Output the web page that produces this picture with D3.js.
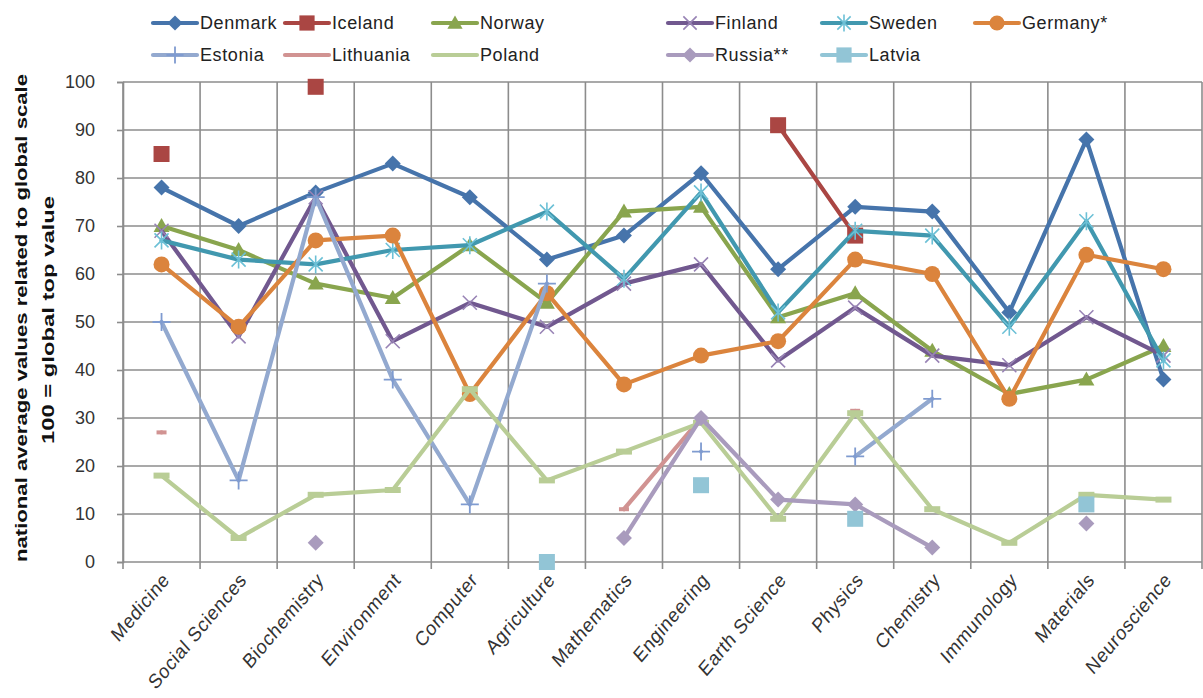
<!DOCTYPE html>
<html>
<head>
<meta charset="utf-8">
<script src="https://cdn.jsdelivr.net/npm/d3@7"></script>
<style>
  html, body { margin: 0; padding: 0; background: #ffffff; }
  svg { display: block; font-family: "Liberation Sans", Arial, sans-serif; }
</style>
</head>
<body>
<svg id="chart" width="1203" height="698"></svg>
<script>
const categories = ["Medicine", "Social Sciences", "Biochemistry", "Environment", "Computer", "Agriculture",
  "Mathematics", "Engineering", "Earth Science", "Physics", "Chemistry", "Immunology", "Materials", "Neuroscience"];

const denmark   = [78, 70, 77, 83, 76, 63, 68, 81, 61, 74, 73, 52, 88, 38];
const iceland   = [85, null, 99, null, null, null, null, null, 91, 68, null, null, null, null];
const norway    = [70, 65, 58, 55, 66, 54, 73, 74, 51, 56, 44, 35, 38, 45];
const finland   = [69, 47, 76, 46, 54, 49, 58, 62, 42, 53, 43, 41, 51, 43];
const sweden    = [67, 63, 62, 65, 66, 73, 59, 77, 52, 69, 68, 49, 71, 42];
const germany   = [62, 49, 67, 68, 35, 56, 37, 43, 46, 63, 60, 34, 64, 61];
const estonia   = [50, 17, 76, 38, 12, 58, null, 23, null, 22, 34, null, null, null];
const lithuania = [27, null, null, null, null, null, 11, 30, null, 31.5, null, null, null, null];
const poland    = [18, 5, 14, 15, 36, 17, 23, 29, 9, 31, 11, 4, 14, 13];
const russia    = [null, null, 4, null, null, null, 5, 30, 13, 12, 3, null, 8, null];
const latvia    = [null, null, null, null, null, 0, null, 16, null, 9, null, null, 12, null];

const yTicks = [0, 10, 20, 30, 40, 50, 60, 70, 80, 90, 100];
const yTitle = ["national average values related to global scale", "100 = global top value"];

const series = [
  { name: "Denmark",   values: denmark,   color: "#4674AB", marker: "diamond",  mcolor: "#4674AB" },
  { name: "Iceland",   values: iceland,   color: "#AA4643", marker: "square",   mcolor: "#AA4643" },
  { name: "Norway",    values: norway,    color: "#89A54E", marker: "triangle", mcolor: "#89A54E" },
  { name: "Finland",   values: finland,   color: "#71588F", marker: "x",        mcolor: "#9883B5" },
  { name: "Sweden",    values: sweden,    color: "#4198AF", marker: "star",     mcolor: "#6CC0D6" },
  { name: "Germany*",  values: germany,   color: "#DB843D", marker: "circle",   mcolor: "#DB843D" },
  { name: "Estonia",   values: estonia,   color: "#93A9CF", marker: "plus",     mcolor: "#7F9BD0" },
  { name: "Lithuania", values: lithuania, color: "#D19392", marker: "smalldash", mcolor: "#D19392" },
  { name: "Poland",    values: poland,    color: "#B9CD96", marker: "dash",     mcolor: "#B9CD96" },
  { name: "Russia**",  values: russia,    color: "#A99BBD", marker: "diamond",  mcolor: "#A99BBD" },
  { name: "Latvia",    values: latvia,    color: "#92C5D6", marker: "square",   mcolor: "#92C5D6", noLine: true }
];

const svg = d3.select("#chart");
const plot = { left: 123, right: 1202, top: 82, bottom: 562 };

const x = d3.scaleBand().domain(categories).range([plot.left, plot.right]).paddingInner(0).paddingOuter(0);
const y = d3.scaleLinear().domain([0, 100]).range([plot.bottom, plot.top]);
const cx = c => x(c) + x.bandwidth() / 2;

const gridColor = "#8C8C8C";

// horizontal gridlines
svg.append("g").selectAll("line").data(yTicks).join("line")
  .attr("x1", plot.left).attr("x2", plot.right)
  .attr("y1", d => y(d)).attr("y2", d => y(d))
  .attr("stroke", gridColor).attr("stroke-width", 1.6);

// vertical gridlines at category boundaries
const bounds = categories.map(c => x(c)).concat([plot.right]);
svg.append("g").selectAll("line").data(bounds).join("line")
  .attr("x1", d => d).attr("x2", d => d)
  .attr("y1", plot.top).attr("y2", plot.bottom + 7)
  .attr("stroke", gridColor).attr("stroke-width", 1.6);

// y axis
const yAxis = svg.append("g").attr("transform", `translate(${plot.left},0)`)
  .call(d3.axisLeft(y).tickValues(yTicks).tickSize(6).tickPadding(22).tickFormat(d3.format("d")));
yAxis.select(".domain").attr("stroke", gridColor).attr("stroke-width", 1.6);
yAxis.selectAll(".tick line").attr("stroke", gridColor).attr("stroke-width", 1.6);
yAxis.selectAll(".tick text").attr("font-size", 18).attr("fill", "#333").attr("font-family", "Liberation Sans, Arial, sans-serif");

// x axis labels
const xAxis = svg.append("g").attr("transform", `translate(0,${plot.bottom})`)
  .call(d3.axisBottom(x).tickSize(0).tickPadding(0));
xAxis.select(".domain").remove();
xAxis.selectAll(".tick text")
  .attr("font-size", 19).attr("letter-spacing", 0.6).attr("fill", "#333").attr("font-family", "Liberation Sans, Arial, sans-serif")
  .attr("text-anchor", "end").attr("dy", 0)
  .attr("transform", "translate(9,19) rotate(-50) skewX(-8)");

// y title
const yt = svg.append("g");
yt.append("text").text(yTitle[0])
  .attr("transform", `translate(27,318) rotate(-90)`).attr("text-anchor", "middle")
  .attr("font-weight", "bold").attr("font-size", 16).attr("fill", "#111")
  .attr("textLength", 488).attr("lengthAdjust", "spacingAndGlyphs");
yt.append("text").text(yTitle[1])
  .attr("transform", `translate(54,320) rotate(-90)`).attr("text-anchor", "middle")
  .attr("font-weight", "bold").attr("font-size", 16).attr("fill", "#111")
  .attr("textLength", 248).attr("lengthAdjust", "spacingAndGlyphs");

function drawMarker(g, type, px, py, color, scale = 1) {
  const s = scale;
  switch (type) {
    case "diamond":
      g.append("path").attr("d", `M${px},${py - 8 * s}L${px + 8 * s},${py}L${px},${py + 8 * s}L${px - 8 * s},${py}Z`).attr("fill", color);
      break;
    case "square":
      g.append("rect").attr("x", px - 8 * s).attr("y", py - 8 * s).attr("width", 16 * s).attr("height", 16 * s).attr("fill", color);
      break;
    case "triangle":
      g.append("path").attr("d", `M${px},${py - 8 * s}L${px + 8 * s},${py + 6 * s}L${px - 8 * s},${py + 6 * s}Z`).attr("fill", color);
      break;
    case "circle":
      g.append("circle").attr("cx", px).attr("cy", py).attr("r", 8 * s).attr("fill", color);
      break;
    case "x":
      g.append("path").attr("d", `M${px - 7 * s},${py - 7 * s}L${px + 7 * s},${py + 7 * s}M${px - 7 * s},${py + 7 * s}L${px + 7 * s},${py - 7 * s}`)
        .attr("stroke", color).attr("stroke-width", 1.6).attr("fill", "none");
      break;
    case "star":
      g.append("path").attr("d", `M${px - 7 * s},${py - 7 * s}L${px + 7 * s},${py + 7 * s}M${px - 7 * s},${py + 7 * s}L${px + 7 * s},${py - 7 * s}M${px},${py - 9 * s}L${px},${py + 9 * s}`)
        .attr("stroke", color).attr("stroke-width", 1.6).attr("fill", "none");
      break;
    case "plus":
      g.append("path").attr("d", `M${px - 9 * s},${py}L${px + 9 * s},${py}M${px},${py - 9 * s}L${px},${py + 9 * s}`)
        .attr("stroke", color).attr("stroke-width", 1.8).attr("fill", "none");
      break;
    case "dash":
      g.append("rect").attr("x", px - 8 * s).attr("y", py - 3 * s).attr("width", 16 * s).attr("height", 6 * s).attr("fill", color);
      break;
    case "smalldash":
      g.append("rect").attr("x", px - 5 * s).attr("y", py - 2 * s).attr("width", 10 * s).attr("height", 4 * s).attr("fill", color);
      break;
  }
}

const line = d3.line()
  .defined(d => d.v !== null)
  .x(d => cx(d.c)).y(d => y(d.v));

const seriesG = svg.append("g");
series.forEach(s => {
  const g = seriesG.append("g");
  const pts = categories.map((c, i) => ({ c, v: s.values[i] }));
  if (!s.noLine) {
    g.append("path").datum(pts).attr("d", line)
      .attr("fill", "none").attr("stroke", s.color).attr("stroke-width", 4.2)
      .attr("stroke-linejoin", "round").attr("stroke-linecap", "round");
  }
  pts.filter(d => d.v !== null).forEach(d => drawMarker(g, s.marker, cx(d.c), y(d.v), s.mcolor));
});

// legend
const legendPos = [
  { x: 153, y: 23 }, { x: 285, y: 23 }, { x: 433, y: 23 }, { x: 668, y: 23 }, { x: 822, y: 23 }, { x: 975, y: 23 },
  { x: 153, y: 55 }, { x: 285, y: 55 }, { x: 433, y: 55 }, { x: 668, y: 55 }, { x: 822, y: 55 }
];
const lg = svg.append("g");
series.forEach((s, i) => {
  const p = legendPos[i];
  const g = lg.append("g");
  g.append("line").attr("x1", p.x).attr("x2", p.x + 44).attr("y1", p.y).attr("y2", p.y)
    .attr("stroke", s.color).attr("stroke-width", 4.2).attr("stroke-linecap", "round");
  if (s.marker !== "dash" && s.marker !== "smalldash") drawMarker(g, s.marker, p.x + 22, p.y, s.mcolor, 0.95);
  g.append("text").text(s.name).attr("x", p.x + 47).attr("y", p.y).attr("dy", "0.36em")
    .attr("font-size", 18).attr("letter-spacing", 0.6).attr("fill", "#222");
});
</script>
</body>
</html>
